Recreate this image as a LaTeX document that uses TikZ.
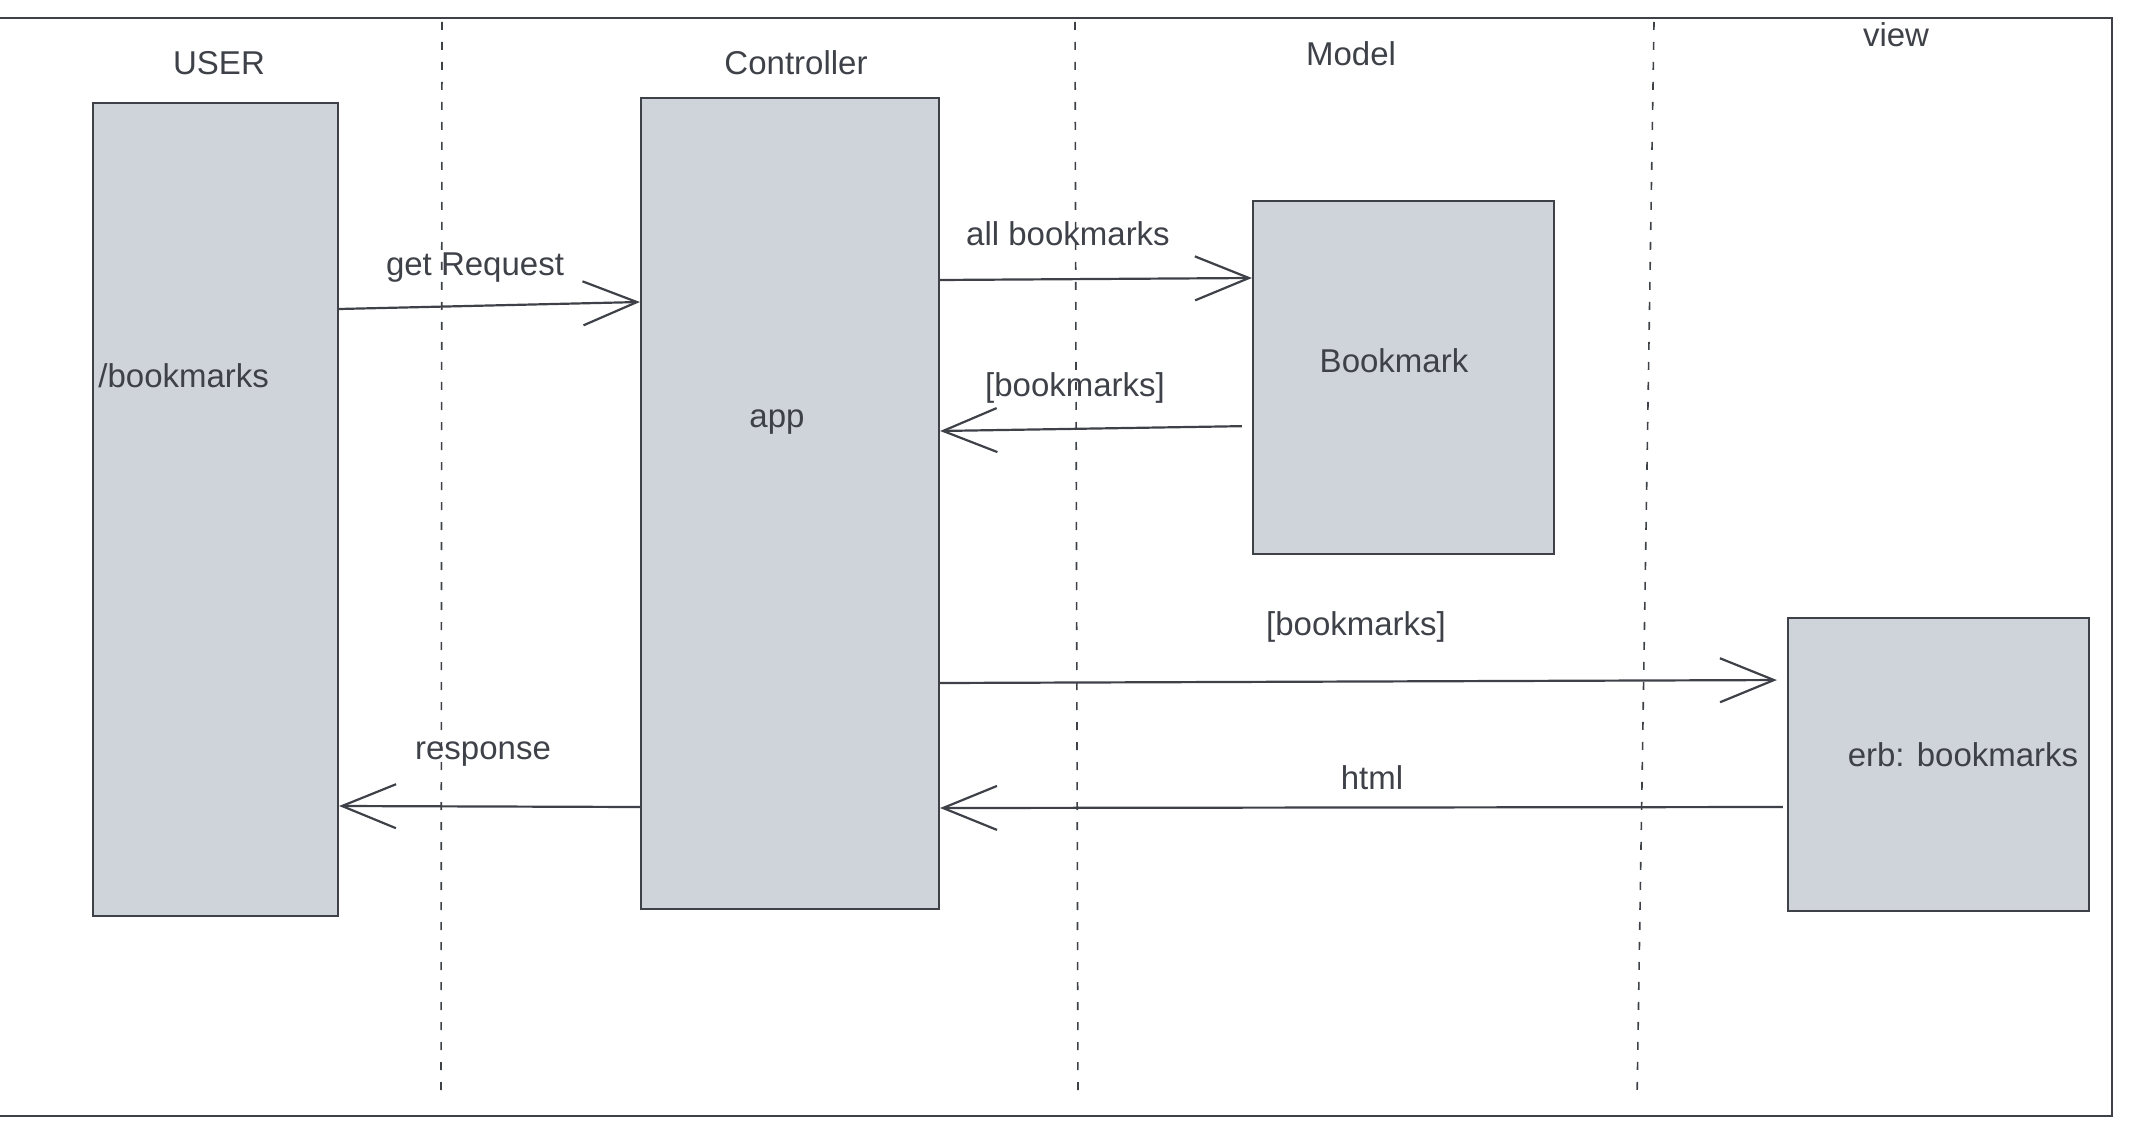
\documentclass[tikz,border=0pt]{standalone}
\usepackage{fontspec}
\setmainfont{Liberation Sans}
\usetikzlibrary{arrows.meta}
\definecolor{ink}{RGB}{62,66,72}
\definecolor{boxfill}{RGB}{207,212,218}
\tikzset{
  lane/.style={draw=ink, line width=0.8pt, dash pattern=on 4pt off 6pt},
  actor/.style={draw=ink, fill=boxfill, line width=1.1pt, inner sep=0pt},
  lbl/.style={text=ink, font=\fontsize{16.5}{19}\selectfont, inner sep=0pt},
  msg/.style={draw=ink, line width=1.1pt, -{Straight Barb[length=27pt,width=22pt,line width=1.1pt]}},
}
\begin{document}
\begin{tikzpicture}[x=0.5pt,y=-0.5pt]
\useasboundingbox (0,0) rectangle (2134,1144);
% frame
\draw[ink, line width=1.2pt] (0,18) -- (2112,18) -- (2112,1116) -- (0,1116);
% lanes
\draw[lane] (442,22) -- (441,1100);
\draw[lane] (1075,22) -- (1078,1100);
\draw[lane] (1654,22) -- (1637,1100);
% titles
\node[lbl] (tuser) at (219,63) {USER};
\node[lbl] (tctrl) at (796,63) {Controller};
\node[lbl] (tmodel) at (1351,54) {Model};
\node[lbl] (tview) at (1896,35) {view};
% boxes
\node[actor, minimum width=122.5pt, minimum height=406.5pt] (user) at (215.5,509.5) {};
\node[actor, minimum width=149pt, minimum height=405.5pt] (ctrl) at (790,503.5) {};
\node[actor, minimum width=150.5pt, minimum height=176.5pt] (model) at (1403.5,377.5) {};
\node[actor, minimum width=150.5pt, minimum height=146.5pt] (view) at (1938.5,764.5) {};
% box texts
\node[lbl, anchor=west] (tbm) at (98,376) {/bookmarks};
\node[lbl] (tapp) at (777,422) {app};
\node[lbl] (tbook) at (1394,361) {Bookmark};
\node[lbl] (terb) at (1963,755) {erb: bookmarks};
% messages
\draw[msg] (user.east |- 0,309) -- (ctrl.west |- 0,302);
\node[lbl] (lget) at (475,268) {get Request};
\draw[msg] (ctrl.east |- 0,280) -- (model.west |- 0,278);
\node[lbl] (lall) at (1068,234) {all bookmarks};
\draw[msg, shorten <=5pt] (model.west |- 0,426) -- (ctrl.east |- 0,431);
\node[lbl] (lbm1) at (1075,388) {[bookmarks]};
\draw[msg, shorten >=5pt] (ctrl.east |- 0,683) -- (view.west |- 0,680);
\node[lbl] (lbm2) at (1356,627) {[bookmarks]};
\draw[msg, shorten <=2pt] (view.west |- 0,807) -- (ctrl.east |- 0,808);
\node[lbl] (lhtml) at (1372,778) {html};
\draw[msg] (ctrl.west |- 0,807) -- (user.east |- 0,806);
\node[lbl] (lresp) at (483,754) {response};
\end{tikzpicture}
\end{document}
